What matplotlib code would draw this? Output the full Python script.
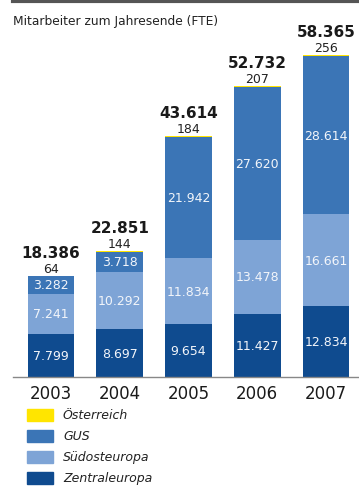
import matplotlib.pyplot as plt
import numpy as np

jahre = ['2003', '2004', '2005', '2006', '2007']
zentraleuropa = [7799, 8697, 9654, 11427, 12834]
suedosteuropa = [7241, 10292, 11834, 13478, 16661]
gus = [3282, 3718, 21942, 27620, 28614]
oesterreich = [64, 144, 184, 207, 256]
gesamt = [18386, 22851, 43614, 52732, 58365]

farben = {'Zentraleuropa': '#0f4b8f', 'Südosteuropa': '#7ea4d6',
          'GUS': '#3b75b6', 'Österreich': '#ffe500'}


def fmt(v):
    return f'{v:,}'.replace(',', '.')


fig = plt.figure(figsize=(3.59, 4.89), dpi=100)
W, H = 359, 489
# Achse: Basislinie bei y=378 px, oben bei y=10 px
ax = fig.add_axes([13 / W, (H - 378) / H, (W - 13) / W, 368 / H])
ax.set_ylim(0, 368 / 0.005517)
ax.set_xlim(-0.553, 4.48)

x = np.arange(len(jahre))
breite = 0.68
unten = np.zeros(len(jahre))
for name, werte in [('Zentraleuropa', zentraleuropa), ('Südosteuropa', suedosteuropa),
                    ('GUS', gus), ('Österreich', oesterreich)]:
    werte = np.array(werte)
    ax.bar(x, werte, breite, bottom=unten, color=farben[name], linewidth=0)
    if name != 'Österreich':
        for xi, b, v in zip(x, unten, werte):
            ax.text(xi, b + v / 2, fmt(v), ha='center', va='center',
                    color='#f2f5fa', fontsize=9)
    unten += werte

for xi, top, oe, tot in zip(x, unten, oesterreich, gesamt):
    ax.text(xi, top + 180, fmt(oe), ha='center', va='bottom', fontsize=9,
            color='#222222')
    ax.text(xi, top + 2900, fmt(tot), ha='center', va='bottom', fontsize=11,
            fontweight='bold', color='#1a1a1a')

for s in ['top', 'right', 'left']:
    ax.spines[s].set_visible(False)
ax.spines['bottom'].set_color('#888888')
ax.spines['bottom'].set_linewidth(1)
ax.set_yticks([])
ax.set_xticks(x)
ax.set_xticklabels(jahre, fontsize=12)
ax.tick_params(axis='x', length=0, pad=5, colors='#1a1a1a')

# Titel und obere Linie
fig.add_artist(plt.Line2D([13 / W, 1], [1 - 2 / H, 1 - 2 / H], color='#555555',
                          linewidth=3))
fig.text(13 / W, 1 - 22 / H, 'Mitarbeiter zum Jahresende (FTE)', fontsize=8.8,
         va='center', ha='left', color='#222222')

# Legende
for i, name in enumerate(['Österreich', 'GUS', 'Südosteuropa', 'Zentraleuropa']):
    yc = 416 + i * 21
    fig.patches.append(plt.Rectangle((27 / W, 1 - (yc + 6) / H), 26 / W, 12 / H,
                                     transform=fig.transFigure, color=farben[name]))
    fig.text(63 / W, 1 - yc / H, name, fontsize=9, style='italic', va='center',
             ha='left', color='#222222')

plt.savefig('out.png', dpi=100)
